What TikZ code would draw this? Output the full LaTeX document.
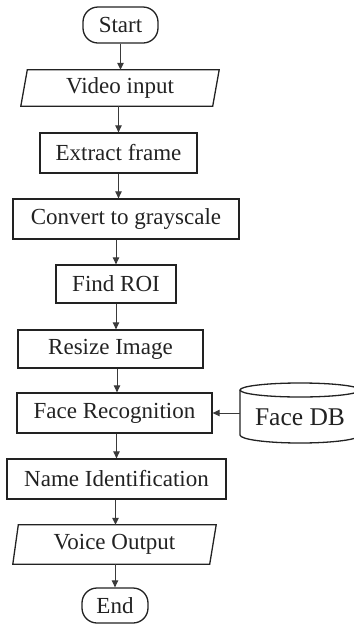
\documentclass[tikz,border=0pt]{standalone}
\usepackage{fontspec}
\setmainfont{Liberation Serif}
\usetikzlibrary{arrows.meta,calc}
\definecolor{ink}{HTML}{222222}
\definecolor{wire}{HTML}{3A3A3A}
\tikzset{
  boxline/.style={draw=ink,line width=1.3pt},
  procbox/.style={boxline,rectangle,inner sep=0pt,minimum height=40pt,text=ink,font=\fontsize{23}{24}\selectfont},
  termbox/.style={procbox,rounded corners=15pt,minimum height=36pt},
  iobox/.style={rectangle,draw=none,inner sep=0pt,text=ink,font=\fontsize{23}{24}\selectfont},
  arr/.style={draw=wire,line width=1pt,-{Triangle[length=7pt,width=6.5pt]}}
}
\begin{document}
\begin{tikzpicture}[x=1pt,y=1pt]
\useasboundingbox (0,0) rectangle (354,-625);
% nodes
\node[termbox,minimum width=75pt] (start) at (120.5,-25) {Start};
\node[iobox,minimum width=198pt,minimum height=36pt] (video) at (120,-88) {Video input};
\draw[boxline] ($(video.north west)+(6.5,0)$) -- (video.north east) -- ($(video.south east)+(-6.5,0)$) -- (video.south west) -- cycle;
\node[procbox,minimum width=157pt] (extract) at (118.5,-153) {Extract frame};
\node[procbox,minimum width=226pt] (convert) at (126,-219) {Convert to grayscale};
\node[procbox,minimum width=120pt,minimum height=38pt] (roi) at (116,-284) {Find ROI};
\node[procbox,minimum width=185pt,minimum height=38pt] (resize) at (110.5,-349) {Resize Image};
\node[procbox,minimum width=195pt] (facerec) at (114.5,-413) {Face Recognition};
\node[procbox,minimum width=219pt] (name) at (116.5,-479) {Name Identification};
\node[iobox,minimum width=203pt,minimum height=39pt] (voice) at (114.5,-544.5) {Voice Output};
\draw[boxline] ($(voice.north west)+(5.5,0)$) -- (voice.north east) -- ($(voice.south east)+(-6.5,0)$) -- (voice.south west) -- cycle;
\node[termbox,minimum width=66pt,minimum height=35pt] (end) at (115,-605.5) {End};
% database cylinder
\node[iobox,minimum width=120pt,minimum height=30pt,font=\fontsize{25.5}{27}\selectfont] (facedb) at (300,-417) {Face DB};
\draw[boxline] (300,-390) ellipse [x radius=60pt,y radius=7pt];
\draw[boxline] (240,-390) -- (240,-435) arc[start angle=180,end angle=360,x radius=60pt,y radius=8pt] -- (360,-390);
% connectors
\draw[arr] (start.south) -- (start.south |- video.north);
\draw[arr] (extract.north |- video.south) -- (extract.north);
\draw[arr] (extract.south) -- (extract.south |- convert.north);
\draw[arr] (roi.north |- convert.south) -- (roi.north);
\draw[arr] (roi.south) -- (roi.south |- resize.north);
\draw[arr] ([xshift=2.5pt]facerec.north |- resize.south) -- ([xshift=2.5pt]facerec.north);
\draw[arr] (name.north |- facerec.south) -- (name.north);
\draw[arr] ([xshift=1pt]voice.north |- name.south) -- ([xshift=1pt]voice.north);
\draw[arr] (end.north |- voice.south) -- (end.north);
\draw[arr] (facerec.east -| facedb.west) -- (facerec.east);
\end{tikzpicture}
\end{document}
